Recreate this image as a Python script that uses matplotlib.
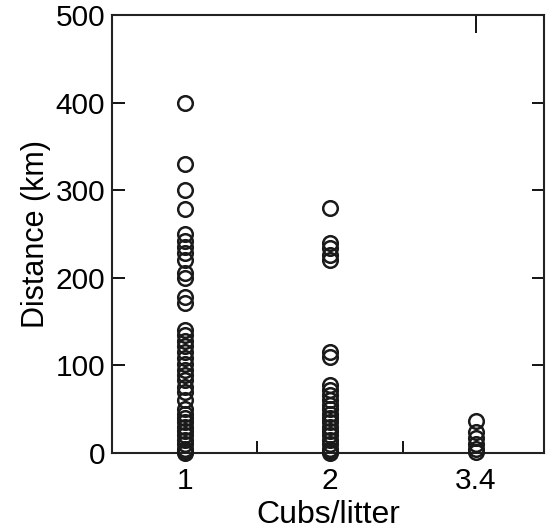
import numpy as np
import matplotlib.pyplot as plt

plt.rcParams['font.family'] = ['Liberation Sans', 'DejaVu Sans']

# --- DATA ---
categories = ['1', '2', '3.4']
dist_1 = [400, 330, 300, 279, 250, 242, 235, 228, 220, 205, 200, 178, 171,
          140, 135, 128, 122, 115, 108, 102, 95, 89, 83,
          75, 70, 60, 50, 45, 40, 35, 30, 25, 20, 15, 10, 5, 2, 0]
dist_2 = [280, 240, 234, 226, 220, 115, 110, 78, 72, 66,
          60, 55, 50, 45, 40, 35, 30, 25, 20, 15, 10, 5, 2, 0]
dist_34 = [37, 24, 17, 10, 5, 1]
groups = [dist_1, dist_2, dist_34]

fig = plt.figure(figsize=(5.5, 5.32), dpi=100)
ax = fig.add_axes([0.2036, 0.1485, 0.7854, 0.8233])

for i, vals in enumerate(groups):
    ax.plot(np.full(len(vals), i), vals, linestyle='none', marker='o',
            markersize=10.5, markerfacecolor='none', markeredgecolor='#1a1a1a',
            markeredgewidth=1.8, clip_on=False, zorder=3)

ax.set_xlim(-0.5, 2.47)
ax.set_ylim(0, 500)
ax.set_xticks([0, 1, 2])
ax.set_xticklabels(categories)
ax.set_xticks([0.5, 1.5], minor=True)
ax.set_yticks([0, 100, 200, 300, 400, 500])

# lone inward tick on the top spine above the last group
top = ax.secondary_xaxis('top')
top.set_xticks([2])
top.set_xticklabels([])
top.tick_params(direction='in', length=13, width=1.3)
top.spines['top'].set_visible(False)

ax.tick_params(axis='x', which='major', length=0, pad=10, labelsize=21.5)
ax.tick_params(axis='x', which='minor', direction='in', length=9, width=1.3,
               top=False)
ax.tick_params(axis='y', direction='in', length=9, width=1.3, right=True,
               labelsize=21.5, pad=5)

for s in ax.spines.values():
    s.set_linewidth(1.5)
    s.set_color('#222222')

ax.set_xlabel('Cubs/litter', fontsize=23, labelpad=4)
ax.set_ylabel('Distance (km)', fontsize=22, labelpad=3)

fig.savefig('out.png', dpi=100)
